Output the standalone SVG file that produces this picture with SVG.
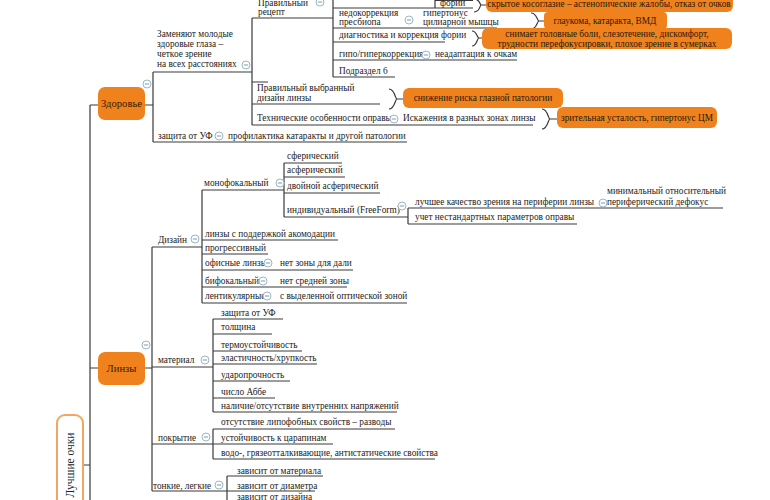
<svg xmlns="http://www.w3.org/2000/svg" width="770" height="500" viewBox="0 0 770 500">
<style>
text{font-family:"Liberation Serif","Times New Roman",serif;font-size:9.3px;fill:#222}
.c path{fill:none;stroke:#3a3a3a;stroke-width:1.2}
.br{fill:none;stroke:#e3b77a;stroke-width:1.2}
.ob{fill:#f0821e}
.ot{text-anchor:middle;fill:#2a1a0a}
.mn{text-anchor:middle;font-size:10.6px;fill:#3a1a00}
</style>
<defs>
<g id="col"><circle r="4" fill="#fff" stroke="#9bb6c4" stroke-width="1"/><path d="M-2.2,0H2.2" stroke="#7d9caf" stroke-width="1"/></g>
</defs>
<rect width="770" height="500" fill="#fff"/>
<g class="c" id="connectors">
<path d="M83,465H90M90,105V502M90,105H98M90,368H98"/>
<path d="M145,105H153M153,72V142M153,72H252M153,142H407"/>
<path d="M252,18V125M252,18H333M252,82H268M252,104H380M252,125H533"/>
<path d="M333,-2V77M333,8H473M435,-2V8M435,0.5H473M333,28H497M333,42H445M333,60H517M333,77H395"/>
<path d="M145,368H152M152,247V491"/>
<path d="M152,247H202M202,190V303M202,190H284M284,163V217M284,163H342M284,177H345M284,193H380M284,217H408M408,208V224M408,208H723M408,224H577"/>
<path d="M202,240H338M202,254H268M202,270H353M202,287H347M202,303H407"/>
<path d="M152,367H213M213,319V412M213,319H283M213,334H272M213,351H302M213,364H317M213,381H290M213,398H275M213,412H397"/>
<path d="M152,444H213M213,429V459M213,429H395M213,444H333M213,459H435"/>
<path d="M152,491H227M227,476V502M227,476H323M227,491H315"/>
<path class="br" d="M474,-1C480,-1 480,5 481,5C480,5 480,12 474,12M481,5H486"/>
<path class="br" d="M531,13C537,13 537,21 539,21C537,21 537,29 531,29M539,21H544"/>
<path class="br" d="M472,31C477,31 477,38 479,38C477,38 477,46 472,46M479,38H482"/>
<path class="br" d="M389,89C395,89 395,99 397,99C395,99 395,109 389,109M397,99H403"/>
<path class="br" d="M542,109C548,109 548,119 550,119C548,119 548,129 542,129M550,119H557"/>
</g>
<g id="root">
<rect x="57" y="415" width="26" height="100" rx="8" fill="#fff" stroke="#f0a860" stroke-width="2"/>
<text transform="translate(74,465) rotate(-90)" text-anchor="middle" style="font-size:11.5px">Лучшие очки</text>
</g>
<g id="zdorovie">
<rect class="ob" x="98" y="87" width="47" height="33" rx="7"/>
<text class="mn" x="121.5" y="107">Здоровье</text>
<use href="#col" x="147" y="84"/>
</g>
<g id="zamenyayut">
<text x="157" y="37">Заменяют молодые</text>
<text x="157" y="47">здоровые глаза –</text>
<text x="157" y="57">четкое зрение</text>
<text x="157" y="67">на всех расстояниях</text>
<use href="#col" x="246" y="65"/>
</g>
<g id="recept">
<text x="258" y="6">Правильный</text>
<text x="258" y="15">рецепт</text>
<use href="#col" x="320" y="2"/>
</g>
<g id="forii"><text x="440" y="6">форий</text></g>
<g id="kosoglazie">
<rect class="ob" x="486" y="-7" width="247" height="19" rx="6"/>
<text class="ot" x="609" y="7">скрытое косоглазие – астенопические жалобы, отказ от очков</text>
</g>
<g id="nedokor">
<text x="339" y="16">недокоррекция</text>
<text x="339" y="25">пресбиопа</text>
<use href="#col" x="409" y="20"/>
</g>
<g id="gipertonus">
<text x="423" y="16">гипертонус</text>
<text x="423" y="25">цилиарной мышцы</text>
</g>
<g id="glaukoma">
<rect class="ob" x="544" y="12" width="123" height="17" rx="4"/>
<text class="ot" x="605" y="24">глаукома, катаракта, ВМД</text>
</g>
<g id="diagnostika"><text x="339" y="38">диагностика и коррекция фории</text></g>
<g id="snimaet">
<rect class="ob" x="482" y="28" width="250" height="21" rx="6"/>
<text class="ot" x="607" y="37">снимает головные боли, слезотечение, дискомфорт,</text>
<text class="ot" x="607" y="47">трудности перефокусировки, плохое зрение в сумерках</text>
</g>
<g id="gipo">
<text x="339" y="57">гипо/гиперкоррекция</text>
<use href="#col" x="426" y="55"/>
<text x="435" y="57">неадаптация к очкам</text>
</g>
<g id="podrazdel"><text x="339" y="74">Подраздел 6</text></g>
<g id="dizainlinzy">
<text x="257" y="91">Правильный выбранный</text>
<text x="257" y="101">дизайн линзы</text>
</g>
<g id="snizhenie">
<rect class="ob" x="403" y="88" width="160" height="20" rx="6"/>
<text class="ot" x="483" y="101">снижение риска глазной патологии</text>
</g>
<g id="tehnicheskie">
<text x="257" y="121">Технические особенности оправы</text>
<use href="#col" x="394" y="119"/>
<text x="403" y="121">Искажения в разных зонах линзы</text>
</g>
<g id="ustalost">
<rect class="ob" x="557" y="107" width="160" height="21" rx="6"/>
<text class="ot" x="637" y="121">зрительная усталость, гипертонус ЦМ</text>
</g>
<g id="zashchitauf1">
<text x="158" y="139">защита от УФ</text>
<use href="#col" x="219" y="136"/>
<text x="228" y="139">профилактика катаракты и другой патологии</text>
</g>
<g id="linzy">
<rect class="ob" x="98" y="352" width="47" height="33" rx="7"/>
<text class="mn" x="121.5" y="372">Линзы</text>
<use href="#col" x="146" y="345"/>
</g>
<g id="dizain">
<text x="158" y="243">Дизайн</text>
<use href="#col" x="195" y="239"/>
</g>
<g id="monofok">
<text x="204" y="186">монофокальный</text>
<use href="#col" x="280" y="183"/>
</g>
<g id="mono-children">
<text x="287" y="159">сферический</text>
<text x="287" y="173">асферический</text>
<text x="287" y="189">двойной асферический</text>
<text x="287" y="213">индивидуальный (FreeForm)</text>
<use href="#col" x="402" y="206"/>
</g>
<g id="freeform-children">
<text x="415" y="205">лучшее качество зрения на периферии линзы</text>
<use href="#col" x="603" y="203"/>
<text x="607" y="194">минимальный относительный</text>
<text x="607" y="205">периферический дефокус</text>
<text x="415" y="220">учет нестандартных параметров оправы</text>
</g>
<g id="dizain-children">
<text x="205" y="237">линзы с поддержкой акомодации</text>
<text x="205" y="251">прогрессивный</text>
<text x="205" y="266">офисные линзы</text>
<use href="#col" x="268" y="263"/>
<text x="280" y="266">нет зоны для дали</text>
<text x="205" y="284">бифокальный</text>
<use href="#col" x="263" y="281"/>
<text x="280" y="284">нет средней зоны</text>
<text x="205" y="299">лентикулярные</text>
<use href="#col" x="267" y="296"/>
<text x="280" y="299">с выделенной оптической зоной</text>
</g>
<g id="material">
<text x="158" y="363">материал</text>
<use href="#col" x="205" y="360"/>
<text x="221" y="316">защита от УФ</text>
<text x="221" y="330">толщина</text>
<text x="221" y="348">термоустойчивость</text>
<text x="221" y="361">эластичность/хрупкость</text>
<text x="221" y="378">ударопрочность</text>
<text x="221" y="395">число Аббе</text>
<text x="221" y="409">наличие/отсутствие внутренних напряжений</text>
</g>
<g id="pokrytie">
<text x="158" y="441">покрытие</text>
<use href="#col" x="206" y="437"/>
<text x="221" y="425">отсутствие липофобных свойств – разводы</text>
<text x="221" y="441">устойчивость к царапинам</text>
<text x="221" y="456">водо-, грязеотталкивающие, антистатические свойства</text>
</g>
<g id="tonkie">
<text x="153" y="489">тонкие, легкие</text>
<use href="#col" x="219" y="485"/>
<text x="237" y="474">зависит от материала</text>
<text x="237" y="489">зависит от диаметра</text>
<text x="237" y="500">зависит от дизайна</text>
</g>
</svg>
